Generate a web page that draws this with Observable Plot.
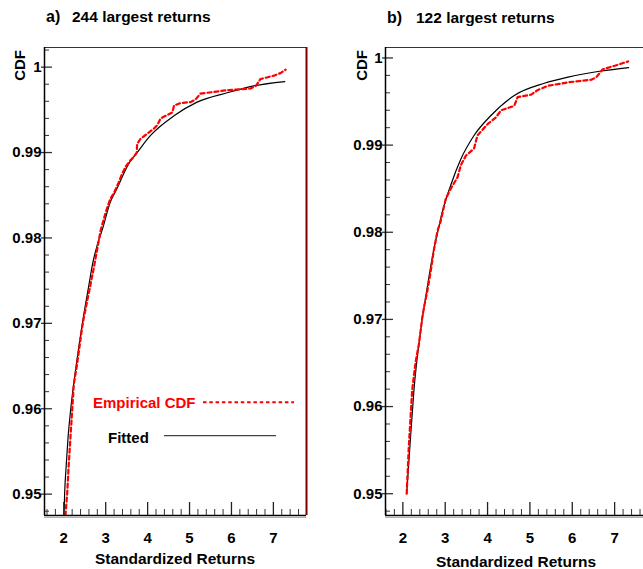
<!DOCTYPE html>
<html><head><meta charset="utf-8">
<script src="https://cdn.jsdelivr.net/npm/d3@7"></script>
<script src="https://cdn.jsdelivr.net/npm/@observablehq/plot@0.6"></script>
<style>
body{margin:0;background:#fff;overflow:hidden}
#wrap{position:relative;width:643px;height:569px;overflow:hidden;background:#fff}
#wrap svg{position:absolute;top:0}
</style></head><body><div id="wrap"></div>
<script>
// ---- data ----
const xTicksMajor = [2, 3, 4, 5, 6, 7];
const xTickLabels = ["2", "3", "4", "5", "6", "7"];
const yTicksMajor = [0.95, 0.96, 0.97, 0.98, 0.99, 1];
const yTickLabels = ["0.95", "0.96", "0.97", "0.98", "0.99", "1"];

// panel a: 244 largest returns
const fitA_x = [2.00, 2.02, 2.06, 2.10, 2.16, 2.28, 2.40, 2.48, 2.60, 2.68, 2.80, 2.92, 3.11, 3.27, 3.55, 3.75, 4.07, 4.63, 5.18, 5.90, 6.53, 7.27];
const fitA_y = [0.9465, 0.9500, 0.9535, 0.9565, 0.9597, 0.9645, 0.9686, 0.9711, 0.9745, 0.9768, 0.9792, 0.9810, 0.9842, 0.9858, 0.9887, 0.9900, 0.9920, 0.9943, 0.9959, 0.9970, 0.9978, 0.9983];
const empA_x = [2.04, 2.08, 2.12, 2.16, 2.20, 2.24, 2.32, 2.44, 2.48, 2.64, 2.72, 2.88, 3.00, 3.11, 3.19, 3.31, 3.39, 3.47, 3.59, 3.67, 3.74, 3.75, 3.83, 3.99, 4.15, 4.23, 4.31, 4.43, 4.59, 4.63, 4.79, 5.02, 5.14, 5.26, 5.58, 5.90, 6.22, 6.46, 6.58, 6.69, 7.01, 7.17, 7.29];
const empA_y = [0.9475, 0.9500, 0.9536, 0.9567, 0.9598, 0.9629, 0.9653, 0.9696, 0.9707, 0.9746, 0.9766, 0.9809, 0.9830, 0.9846, 0.9852, 0.9865, 0.9875, 0.9883, 0.9891, 0.9895, 0.9900, 0.9910, 0.9916, 0.9922, 0.9928, 0.9932, 0.9940, 0.9943, 0.9947, 0.9955, 0.9958, 0.9959, 0.9962, 0.9969, 0.9971, 0.9973, 0.9974, 0.9975, 0.9978, 0.9986, 0.9990, 0.9993, 0.9997];

// panel b: 122 largest returns
const fitB_x = [2.09, 2.17, 2.26, 2.42, 2.58, 2.75, 2.83, 2.93, 3.13, 3.37, 3.68, 4.08, 4.63, 5.34, 5.90, 6.68, 7.33];
const fitB_y = [0.9500, 0.9557, 0.9618, 0.9687, 0.9738, 0.9785, 0.9802, 0.9823, 0.9854, 0.9884, 0.9911, 0.9934, 0.9957, 0.9971, 0.9978, 0.9985, 0.9989];
const empB_x = [2.09, 2.14, 2.22, 2.30, 2.38, 2.46, 2.50, 2.58, 2.66, 2.73, 2.82, 2.89, 3.01, 3.13, 3.29, 3.37, 3.49, 3.68, 3.76, 4.00, 4.20, 4.32, 4.63, 4.71, 5.03, 5.18, 5.42, 5.90, 6.45, 6.57, 6.72, 7.00, 7.32];
const empB_y = [0.9500, 0.9554, 0.9619, 0.9651, 0.9672, 0.9703, 0.9714, 0.9733, 0.9756, 0.9779, 0.9802, 0.9812, 0.9838, 0.9850, 0.9863, 0.9877, 0.9888, 0.9896, 0.9911, 0.9924, 0.9932, 0.9940, 0.9945, 0.9955, 0.9958, 0.9963, 0.9968, 0.9972, 0.9975, 0.9978, 0.9987, 0.9991, 0.9996];

const titles = [["a)", "244 largest returns"], ["b)", "122 largest returns"]];
const xLabel = "Standardized Returns";
const yLabel = "CDF";
const legendLabels = ["Empirical CDF", "Fitted"];

// ---- drawing ----
const FONT = '"Liberation Sans", Arial, Helvetica, sans-serif';
const RED = "#ff0000";
const toRows = (xs, ys) => xs.map((x, i) => ({x, y: ys[i]}));

function panel({fit, emp, xDomain, yDomain, width, marginLeft, marginRight, redRight, left}) {
  const H = 569 - 47 - 54;
  const W = width - marginLeft - marginRight;
  const xMinor = d3.range(16, 80, 2).map(v => v / 10).filter(v => v >= xDomain[0] && v <= xDomain[1] && !xTicksMajor.includes(v));
  const yMinor = d3.range(948, 1003, 2).map(v => v / 1000).filter(v => v >= yDomain[0] && v <= yDomain[1]);
  const svg = Plot.plot({
    width, height: 569, marginTop: 47, marginBottom: 54, marginLeft, marginRight,
    x: {domain: xDomain},
    y: {domain: yDomain},
    style: {fontFamily: FONT, fontSize: "15px", fontWeight: "bold", overflow: "visible", background: "transparent", color: "#000"},
    marks: [
      Plot.line(fit, {x: "x", y: "y", stroke: "#000", strokeWidth: 1.2, curve: "monotone-x", clip: true}),
      Plot.line(emp, {x: "x", y: "y", stroke: RED, strokeWidth: 2.2, strokeDasharray: "4,3", clip: true}),
      Plot.tickX(xMinor, {x: d => d, insetTop: H - 6, stroke: "#333", strokeWidth: 1}),
      Plot.tickX(xTicksMajor, {x: d => d, insetTop: H - 13, stroke: "#222", strokeWidth: 1.3}),
      Plot.tickY(yMinor.filter(v => !yTicksMajor.some(t => Math.abs(t - v) < 1e-9)), {y: d => d, insetRight: W - 5, stroke: "#333"}),
      Plot.tickY(yTicksMajor, {y: d => d, insetRight: W - 8, insetLeft: -3, stroke: "#333", strokeWidth: 1.3}),
      Plot.axisX(xTicksMajor, {tickSize: 0, tickPadding: 17, tickFormat: d => xTickLabels[xTicksMajor.indexOf(d)], label: null, fontSize: 15, fontWeight: "bold"}),
      Plot.axisY(yTicksMajor, {tickSize: 0, tickPadding: 3, tickFormat: d => yTickLabels[yTicksMajor.indexOf(d)], label: null, fontSize: 15, fontWeight: "bold"}),
      Plot.ruleY([yDomain[1]], {stroke: "#333", strokeWidth: 1}),
      Plot.ruleX([xDomain[0]], {stroke: "#000", strokeWidth: 1.5}),
      ...(redRight ? [Plot.ruleX([xDomain[1]], {stroke: "#7a0000", strokeWidth: 2})] : []),
      Plot.ruleY([yDomain[0]], {stroke: "#ff9090", strokeWidth: 1, dy: 2}),
      Plot.ruleY([yDomain[0]], {stroke: "#000", strokeWidth: 1.5})
    ]
  });
  svg.style.left = left + "px";
  return svg;
}

const wrap = document.getElementById("wrap");
wrap.appendChild(panel({
  fit: toRows(fitA_x, fitA_y), emp: toRows(empA_x, empA_y),
  xDomain: [1.54, 7.79], yDomain: [0.9475, 1.0023],
  width: 320, marginLeft: 44, marginRight: 14, redRight: true, left: 0
}));
wrap.appendChild(panel({
  fit: toRows(fitB_x, fitB_y), emp: toRows(empB_x, empB_y),
  xDomain: [1.59, 7.80], yDomain: [0.9475, 1.0012],
  width: 330, marginLeft: 65, marginRight: 2, redRight: false, left: 320
}));

// overlay: titles, axis titles, legend
const ns = "http://www.w3.org/2000/svg";
const ov = document.createElementNS(ns, "svg");
ov.setAttribute("width", 643); ov.setAttribute("height", 569);
ov.style.left = "0px";
ov.setAttribute("font-family", FONT);
ov.setAttribute("font-weight", "bold");
function txt(s, attrs) {
  const t = document.createElementNS(ns, "text");
  for (const k in attrs) t.setAttribute(k, attrs[k]);
  t.textContent = s;
  ov.appendChild(t);
  return t;
}
function ln(attrs) {
  const l = document.createElementNS(ns, "line");
  for (const k in attrs) l.setAttribute(k, attrs[k]);
  ov.appendChild(l);
}
txt(titles[0][0], {x: 46, y: 22, "font-size": 16});
txt(titles[0][1], {x: 72, y: 22, "font-size": 15.5});
txt(titles[1][0], {x: 387, y: 22.5, "font-size": 16});
txt(titles[1][1], {x: 416, y: 22.5, "font-size": 15.5});
txt(yLabel, {transform: "translate(25,50) rotate(-90)", "text-anchor": "end", "font-size": 15});
txt(yLabel, {transform: "translate(367,50) rotate(-90)", "text-anchor": "end", "font-size": 15});
txt(xLabel, {x: 175, y: 564, "text-anchor": "middle", "font-size": 15.5});
txt(xLabel, {x: 516, y: 566.5, "text-anchor": "middle", "font-size": 15.5});
txt(legendLabels[0], {x: 93, y: 407.5, "font-size": 15, fill: RED});
ln({x1: 203, x2: 294, y1: 402.3, y2: 402.3, stroke: RED, "stroke-width": 2, "stroke-dasharray": "3.5,2.8"});
txt(legendLabels[1], {x: 108, y: 442.5, "font-size": 15, fill: "#000"});
ln({x1: 164, x2: 276, y1: 435.7, y2: 435.7, stroke: "#444", "stroke-width": 1.2});
wrap.appendChild(ov);
</script></body></html>
